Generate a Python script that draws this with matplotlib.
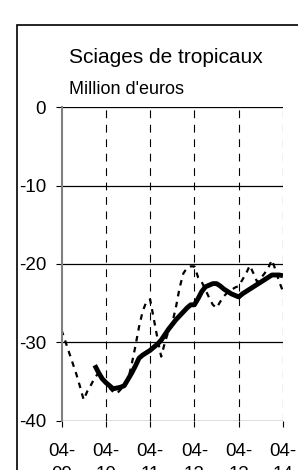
import numpy as np
import matplotlib
matplotlib.use("Agg")
import matplotlib.pyplot as plt
from matplotlib.patches import Rectangle

plt.rcParams["font.family"] = ["Liberation Sans", "DejaVu Sans"]

# monthly values, Apr 2009 .. Apr 2014 (Million d'euros)
monthly = [-28.4, -29.8, -31.2, -32.6, -34.0, -35.6, -37.3, -36.2, -35.4, -34.5,
           -33.9, -34.5, -35.2, -35.8, -36.3, -36.5, -36.0, -35.3, -34.8, -32.8,
           -30.5, -28.0, -26.0, -24.8, -24.5, -27.0, -29.5, -31.8, -30.0, -28.5,
           -27.5, -25.5, -23.0, -21.2, -20.5, -20.3, -20.3, -21.7, -22.3, -23.3,
           -24.3, -25.2, -25.6, -24.8, -24.1, -23.6, -23.3, -23.0, -22.8, -22.0,
           -21.2, -20.2, -21.2, -22.3, -21.8, -21.2, -20.5, -19.5, -20.8, -22.3,
           -23.5]
# smoothed series, starts Jan 2010
trend = [np.nan] * 9 + [
           -32.9, -33.8, -34.6, -35.1, -35.5, -35.9, -35.8, -35.7, -35.5, -34.7,
           -33.9, -33.0, -32.0, -31.6, -31.3, -31.0, -30.6, -30.2, -29.7, -29.0,
           -28.3, -27.7, -27.1, -26.6, -26.1, -25.6, -25.2, -25.2, -24.4, -23.5,
           -22.9, -22.7, -22.5, -22.5, -22.8, -23.2, -23.5, -23.8, -24.0, -24.2,
           -23.8, -23.5, -23.2, -22.9, -22.6, -22.3, -22.0, -21.7, -21.4, -21.4,
           -21.4, -21.5]
tick_labels = ["04-\n09", "04-\n10", "04-\n11", "04-\n12", "04-\n13", "04-\n14"]
y_ticks = [0, -10, -20, -30, -40]

months = np.arange(len(monthly))

fig = plt.figure(figsize=(2.98, 4.70), dpi=100)
ax = fig.add_axes([0.2064, 0.1043, 0.7433, 0.668])

ax.plot(months, monthly, color="black", lw=1.6, linestyle=(0, (2.5, 2.5)))
ax.plot(months, trend, color="black", lw=3.5, solid_capstyle="butt")

ax.set_xlim(0, 60)
ax.set_ylim(-40, 0)
ax.set_xticks(np.arange(0, 61, 12))
ax.set_xticklabels(tick_labels, linespacing=1.5)
ax.set_yticks(y_ticks)
ax.set_yticklabels([str(v) for v in y_ticks])
ax.tick_params(axis="both", labelsize=13.5, color="black", width=0.8, length=4.5)
ax.tick_params(axis="y", pad=6.5)
ax.tick_params(axis="x", pad=11)

for s in ["top", "right", "bottom"]:
    ax.spines[s].set_visible(False)
ax.spines["left"].set_color("#808080")
ax.spines["left"].set_linewidth(1.5)

for v in y_ticks:
    ax.axhline(v, color="black", lw=0.9, zorder=0.5)
for m in range(12, 61, 12):
    ax.axvline(m, color="black", lw=0.8, linestyle=(0, (7, 6)), zorder=0.5)

fig.text(0.555, 0.878, "Sciages de tropicaux", ha="center", va="center", fontsize=15)
fig.text(0.232, 0.810, "Million d'euros", ha="left", va="center", fontsize=13)

fig.patches.append(Rectangle((17 / 298, -0.1), 1.2, 0.1 + (1 - 25 / 470),
                             transform=fig.transFigure, fill=False,
                             edgecolor="black", lw=1.2, clip_on=False))

plt.savefig("out.png", dpi=100)
